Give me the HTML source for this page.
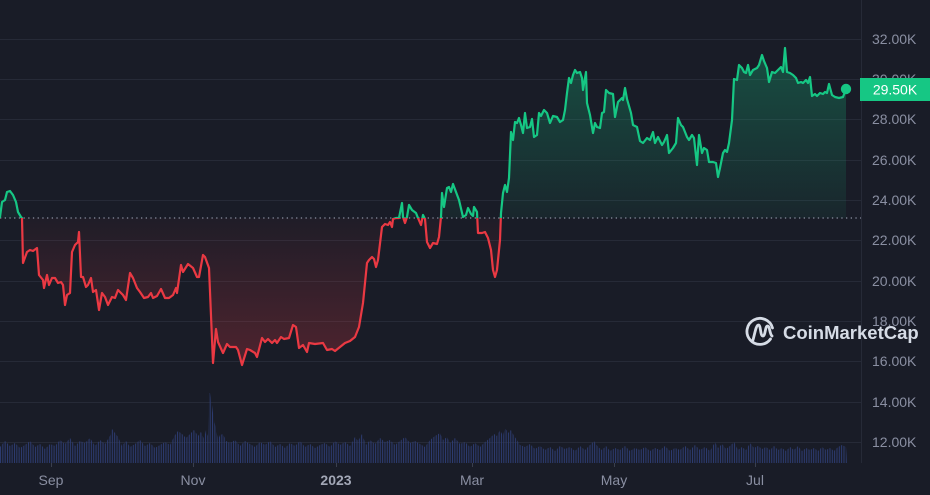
<!DOCTYPE html>
<html>
<head>
<meta charset="utf-8">
<style>
  html,body{margin:0;padding:0;background:#191c27;}
  body{width:930px;height:495px;overflow:hidden;}
  svg{display:block;}
  text{font-family:"Liberation Sans",Arial,sans-serif;}
</style>
</head>
<body>
<svg width="930" height="495" viewBox="0 0 930 495" xmlns="http://www.w3.org/2000/svg" xmlns:xlink="http://www.w3.org/1999/xlink">
  <defs>
    <linearGradient id="gG" gradientUnits="userSpaceOnUse" x1="0" y1="48" x2="0" y2="218">
      <stop offset="0" stop-color="#16c784" stop-opacity="0.30"/>
      <stop offset="1" stop-color="#16c784" stop-opacity="0.06"/>
    </linearGradient>
    <linearGradient id="gR" gradientUnits="userSpaceOnUse" x1="0" y1="218" x2="0" y2="366">
      <stop offset="0" stop-color="#ea3943" stop-opacity="0.03"/>
      <stop offset="1" stop-color="#ea3943" stop-opacity="0.26"/>
    </linearGradient>
    <clipPath id="cTop"><rect x="0" y="0" width="861" height="218"/></clipPath>
    <clipPath id="cBot"><rect x="0" y="218" width="861" height="277"/></clipPath>
    <pattern id="vbars" patternUnits="userSpaceOnUse" x="0" y="0" width="2.33" height="495">
      <rect x="0" y="0" width="1" height="495" fill="#2d3c72"/>
    </pattern>
    <path id="lineD" d="M0,217 L2,202 L5,200 L7,192 L10,191 L13,195 L16,202 L18,212 L21,217 L22,218 L23,263 L27,252 L30,250 L33,251 L37,248 L39,275 L43,280 L44,288 L47,275 L49,285 L52,278 L55,278 L58,283 L61,282 L63,285 L65,305 L67,295 L70,293 L72,252 L75,245 L78,242 L79,232 L81,277 L83,277 L86,287 L88,285 L91,278 L93,292 L96,290 L99,310 L102,293 L105,297 L108,305 L112,297 L115,298 L118,290 L123,295 L126,300 L130,273 L133,278 L137,288 L140,292 L144,298 L148,297 L151,293 L153,298 L157,296 L161,289 L165,298 L169,298 L173,295 L176,288 L177,293 L181,265 L183,272 L188,264 L193,268 L197,277 L199,277 L203,255 L205,257 L209,268 L213,363 L216,329 L218,342 L223,353 L227,344 L230,347 L236,347 L238,350 L242,365 L247,349 L250,350 L255,353 L257,357 L262,338 L265,342 L268,339 L272,343 L275,340 L277,343 L281,337 L284,339 L289,338 L293,325 L296,327 L299,348 L303,345 L307,352 L309,343 L315,344 L323,343 L327,350 L332,349 L335,351 L340,347 L345,343 L350,341 L355,337 L359,327 L363,303 L367,263 L369,260 L372,257 L374,259 L376,267 L378,260 L382,227 L385,224 L388,225 L390,222 L392,227 L393,219 L396,218 L399,218 L402,203 L403,217 L405,223 L407,217 L409,205 L412,210 L416,213 L418,218 L421,225 L423,215 L425,219 L427,242 L430,248 L433,243 L437,244 L439,237 L441,217 L442,193 L444,207 L447,188 L449,187 L451,192 L453,184 L456,192 L459,200 L463,217 L466,215 L468,208 L471,214 L473,216 L474,207 L477,212 L478,233 L482,233 L485,232 L488,238 L491,250 L493,270 L495,277 L497,270 L500,240 L501,213 L503,193 L505,185 L507,192 L509,178 L511,132 L513,140 L515,122 L517,123 L519,118 L521,125 L523,133 L525,113 L527,128 L530,127 L532,119 L534,137 L537,135 L539,113 L541,116 L544,110 L547,113 L550,123 L553,116 L557,117 L560,122 L563,120 L565,110 L567,93 L569,78 L571,83 L573,75 L575,70 L577,73 L580,72 L582,78 L583,90 L586,72 L587,103 L590,115 L593,133 L595,123 L597,127 L600,128 L602,113 L604,112 L606,90 L609,93 L613,94 L615,117 L618,102 L622,98 L623,100 L625,88 L627,99 L631,113 L633,125 L637,127 L640,141 L643,143 L647,138 L650,140 L653,132 L655,143 L658,137 L662,145 L664,142 L667,135 L669,153 L673,148 L676,143 L678,118 L681,125 L683,127 L687,137 L689,140 L692,135 L694,138 L697,165 L699,135 L702,153 L704,148 L707,150 L709,162 L713,162 L716,163 L718,177 L720,168 L723,153 L725,150 L727,152 L729,143 L732,120 L734,79 L737,80 L739,65 L742,68 L744,72 L746,73 L748,65 L750,75 L753,70 L757,68 L759,65 L762,55 L764,61 L767,68 L769,82 L772,72 L775,73 L778,70 L781,67 L783,72 L785,48 L787,72 L790,73 L793,75 L796,78 L798,83 L801,82 L803,83 L806,80 L808,83 L810,77 L812,96 L815,94 L817,96 L820,93 L823,94 L825,92 L827,93 L829,84 L832,95 L835,97 L839,98 L843,97 L846,89"/>
    <path id="areaD" d="M0,217 L2,202 L5,200 L7,192 L10,191 L13,195 L16,202 L18,212 L21,217 L22,218 L23,263 L27,252 L30,250 L33,251 L37,248 L39,275 L43,280 L44,288 L47,275 L49,285 L52,278 L55,278 L58,283 L61,282 L63,285 L65,305 L67,295 L70,293 L72,252 L75,245 L78,242 L79,232 L81,277 L83,277 L86,287 L88,285 L91,278 L93,292 L96,290 L99,310 L102,293 L105,297 L108,305 L112,297 L115,298 L118,290 L123,295 L126,300 L130,273 L133,278 L137,288 L140,292 L144,298 L148,297 L151,293 L153,298 L157,296 L161,289 L165,298 L169,298 L173,295 L176,288 L177,293 L181,265 L183,272 L188,264 L193,268 L197,277 L199,277 L203,255 L205,257 L209,268 L213,363 L216,329 L218,342 L223,353 L227,344 L230,347 L236,347 L238,350 L242,365 L247,349 L250,350 L255,353 L257,357 L262,338 L265,342 L268,339 L272,343 L275,340 L277,343 L281,337 L284,339 L289,338 L293,325 L296,327 L299,348 L303,345 L307,352 L309,343 L315,344 L323,343 L327,350 L332,349 L335,351 L340,347 L345,343 L350,341 L355,337 L359,327 L363,303 L367,263 L369,260 L372,257 L374,259 L376,267 L378,260 L382,227 L385,224 L388,225 L390,222 L392,227 L393,219 L396,218 L399,218 L402,203 L403,217 L405,223 L407,217 L409,205 L412,210 L416,213 L418,218 L421,225 L423,215 L425,219 L427,242 L430,248 L433,243 L437,244 L439,237 L441,217 L442,193 L444,207 L447,188 L449,187 L451,192 L453,184 L456,192 L459,200 L463,217 L466,215 L468,208 L471,214 L473,216 L474,207 L477,212 L478,233 L482,233 L485,232 L488,238 L491,250 L493,270 L495,277 L497,270 L500,240 L501,213 L503,193 L505,185 L507,192 L509,178 L511,132 L513,140 L515,122 L517,123 L519,118 L521,125 L523,133 L525,113 L527,128 L530,127 L532,119 L534,137 L537,135 L539,113 L541,116 L544,110 L547,113 L550,123 L553,116 L557,117 L560,122 L563,120 L565,110 L567,93 L569,78 L571,83 L573,75 L575,70 L577,73 L580,72 L582,78 L583,90 L586,72 L587,103 L590,115 L593,133 L595,123 L597,127 L600,128 L602,113 L604,112 L606,90 L609,93 L613,94 L615,117 L618,102 L622,98 L623,100 L625,88 L627,99 L631,113 L633,125 L637,127 L640,141 L643,143 L647,138 L650,140 L653,132 L655,143 L658,137 L662,145 L664,142 L667,135 L669,153 L673,148 L676,143 L678,118 L681,125 L683,127 L687,137 L689,140 L692,135 L694,138 L697,165 L699,135 L702,153 L704,148 L707,150 L709,162 L713,162 L716,163 L718,177 L720,168 L723,153 L725,150 L727,152 L729,143 L732,120 L734,79 L737,80 L739,65 L742,68 L744,72 L746,73 L748,65 L750,75 L753,70 L757,68 L759,65 L762,55 L764,61 L767,68 L769,82 L772,72 L775,73 L778,70 L781,67 L783,72 L785,48 L787,72 L790,73 L793,75 L796,78 L798,83 L801,82 L803,83 L806,80 L808,83 L810,77 L812,96 L815,94 L817,96 L820,93 L823,94 L825,92 L827,93 L829,84 L832,95 L835,97 L839,98 L843,97 L846,89 L846,218 L0,218 Z"/>
  </defs>

  <rect width="930" height="495" fill="#191c27"/>

  <!-- grid -->
  <g stroke="#262a37" stroke-width="1">
    <line x1="0" y1="39.5" x2="861" y2="39.5"/>
    <line x1="0" y1="79.5" x2="861" y2="79.5"/>
    <line x1="0" y1="119.5" x2="861" y2="119.5"/>
    <line x1="0" y1="160.5" x2="861" y2="160.5"/>
    <line x1="0" y1="200.5" x2="861" y2="200.5"/>
    <line x1="0" y1="240.5" x2="861" y2="240.5"/>
    <line x1="0" y1="281.5" x2="861" y2="281.5"/>
    <line x1="0" y1="321.5" x2="861" y2="321.5"/>
    <line x1="0" y1="361.5" x2="861" y2="361.5"/>
    <line x1="0" y1="402.5" x2="861" y2="402.5"/>
    <line x1="0" y1="442.5" x2="861" y2="442.5"/>
    <line x1="861.5" y1="0" x2="861.5" y2="463"/>
  </g>

  <!-- volume -->
  <polygon fill="url(#vbars)" points="0,463 0,447 5,441 10,446 15,443 20,448 25,445 30,441 35,447 40,444 45,449 50,444 55,446 60,440 65,444 70,438 75,446 80,441 85,443 90,438 95,446 100,440 105,444 110,436 112,429 115,433 118,437 122,446 126,441 130,447 135,444 140,440 145,446 150,443 155,448 160,445 165,442 170,445 175,435 178,431 182,434 186,438 190,434 194,430 198,436 201,432 204,439 206,430 208,436 209,393 210,393 211,402 212,405 213,413 214,420 216,429 218,440 220,435 223,434 226,441 230,443 235,440 240,446 245,441 250,444 255,447 260,442 265,445 270,441 275,447 280,444 285,448 290,443 295,446 300,441 305,447 310,444 315,448 320,445 325,443 330,447 335,441 340,445 345,442 350,446 355,437 358,441 362,434 366,445 370,440 375,444 380,438 385,442 390,440 395,445 400,441 405,437 410,443 415,441 420,444 425,447 430,440 435,436 440,433 443,440 447,437 450,443 455,438 460,444 465,442 470,447 475,443 480,447 485,442 490,438 494,434 497,436 500,430 503,436 505,428 508,433 511,430 514,436 517,440 520,445 525,447 530,444 535,449 540,446 545,450 550,447 555,451 560,446 565,449 570,447 575,451 580,446 585,450 590,445 594,441 598,447 602,450 606,446 610,451 615,448 620,450 625,446 630,451 635,448 640,450 645,447 650,451 655,448 660,450 665,446 670,451 675,448 680,450 685,446 690,450 695,445 700,450 705,447 710,451 715,442 718,448 722,444 726,449 730,446 734,442 738,450 742,447 746,450 750,443 754,448 758,446 762,449 766,447 770,450 774,446 778,450 782,448 786,451 790,447 794,450 798,446 802,451 806,448 810,450 814,448 818,451 822,447 826,450 830,448 834,451 838,447 842,445 846,447 847,463"/>

  <!-- x ticks -->
  <g stroke="#3a3f4e" stroke-width="1">
    <line x1="51.5" y1="463" x2="51.5" y2="467"/>
    <line x1="193.5" y1="463" x2="193.5" y2="467"/>
    <line x1="336.5" y1="463" x2="336.5" y2="467"/>
    <line x1="472.5" y1="463" x2="472.5" y2="467"/>
    <line x1="614.5" y1="463" x2="614.5" y2="467"/>
    <line x1="755.5" y1="463" x2="755.5" y2="467"/>
  </g>

  <!-- area fills -->
  <g clip-path="url(#cTop)"><use href="#areaD" xlink:href="#areaD" fill="url(#gG)"/></g>
  <g clip-path="url(#cBot)"><use href="#areaD" xlink:href="#areaD" fill="url(#gR)"/></g>

  <!-- baseline dotted -->
  <line x1="0" y1="218" x2="861" y2="218" stroke="#8d92a3" stroke-width="1.2" stroke-dasharray="1.3 3.4"/>

  <!-- price line -->
  <g clip-path="url(#cTop)"><use href="#lineD" xlink:href="#lineD" fill="none" stroke="#16c784" stroke-width="2.2" stroke-linejoin="round" stroke-linecap="round"/></g>
  <g clip-path="url(#cBot)"><use href="#lineD" xlink:href="#lineD" fill="none" stroke="#ea3943" stroke-width="2.2" stroke-linejoin="round" stroke-linecap="round"/></g>

  <circle cx="846" cy="89" r="5.2" fill="#16c784"/>

  <!-- y labels -->
  <g fill="#8a8fa2" font-size="14">
    <text x="872" y="44">32.00K</text>
    <text x="872" y="84">30.00K</text>
    <text x="872" y="124">28.00K</text>
    <text x="872" y="165">26.00K</text>
    <text x="872" y="205">24.00K</text>
    <text x="872" y="245">22.00K</text>
    <text x="872" y="286">20.00K</text>
    <text x="872" y="326">18.00K</text>
    <text x="872" y="366">16.00K</text>
    <text x="872" y="407">14.00K</text>
    <text x="872" y="447">12.00K</text>
  </g>

  <!-- current price tag -->
  <rect x="860" y="78" width="70" height="23" fill="#16c784"/>
  <text x="895" y="94.5" fill="#ffffff" font-size="14" text-anchor="middle">29.50K</text>

  <!-- x labels -->
  <g fill="#8a8fa2" font-size="14" text-anchor="middle">
    <text x="51" y="485">Sep</text>
    <text x="193" y="485">Nov</text>
    <text x="336" y="485" font-weight="bold" fill="#a2a7b6">2023</text>
    <text x="472" y="485">Mar</text>
    <text x="614" y="485">May</text>
    <text x="755" y="485">Jul</text>
  </g>

  <!-- watermark -->
  <g fill="none" stroke="#d6dce6" stroke-width="2.8" stroke-linecap="round" stroke-linejoin="round">
    <path d="M770.5,339 A13 13 0 1 1 772.5,328"/>
    <path d="M753,340 C755,333 756,325 758.5,325 C761,325 760,336 763,336 C765.5,336 765,326 767.5,326 C770,326 769.5,334 772,336"/>
  </g>
  <text x="783" y="339" fill="#d6dce6" font-size="18.5" font-weight="bold">CoinMarketCap</text>
</svg>
</body>
</html>
